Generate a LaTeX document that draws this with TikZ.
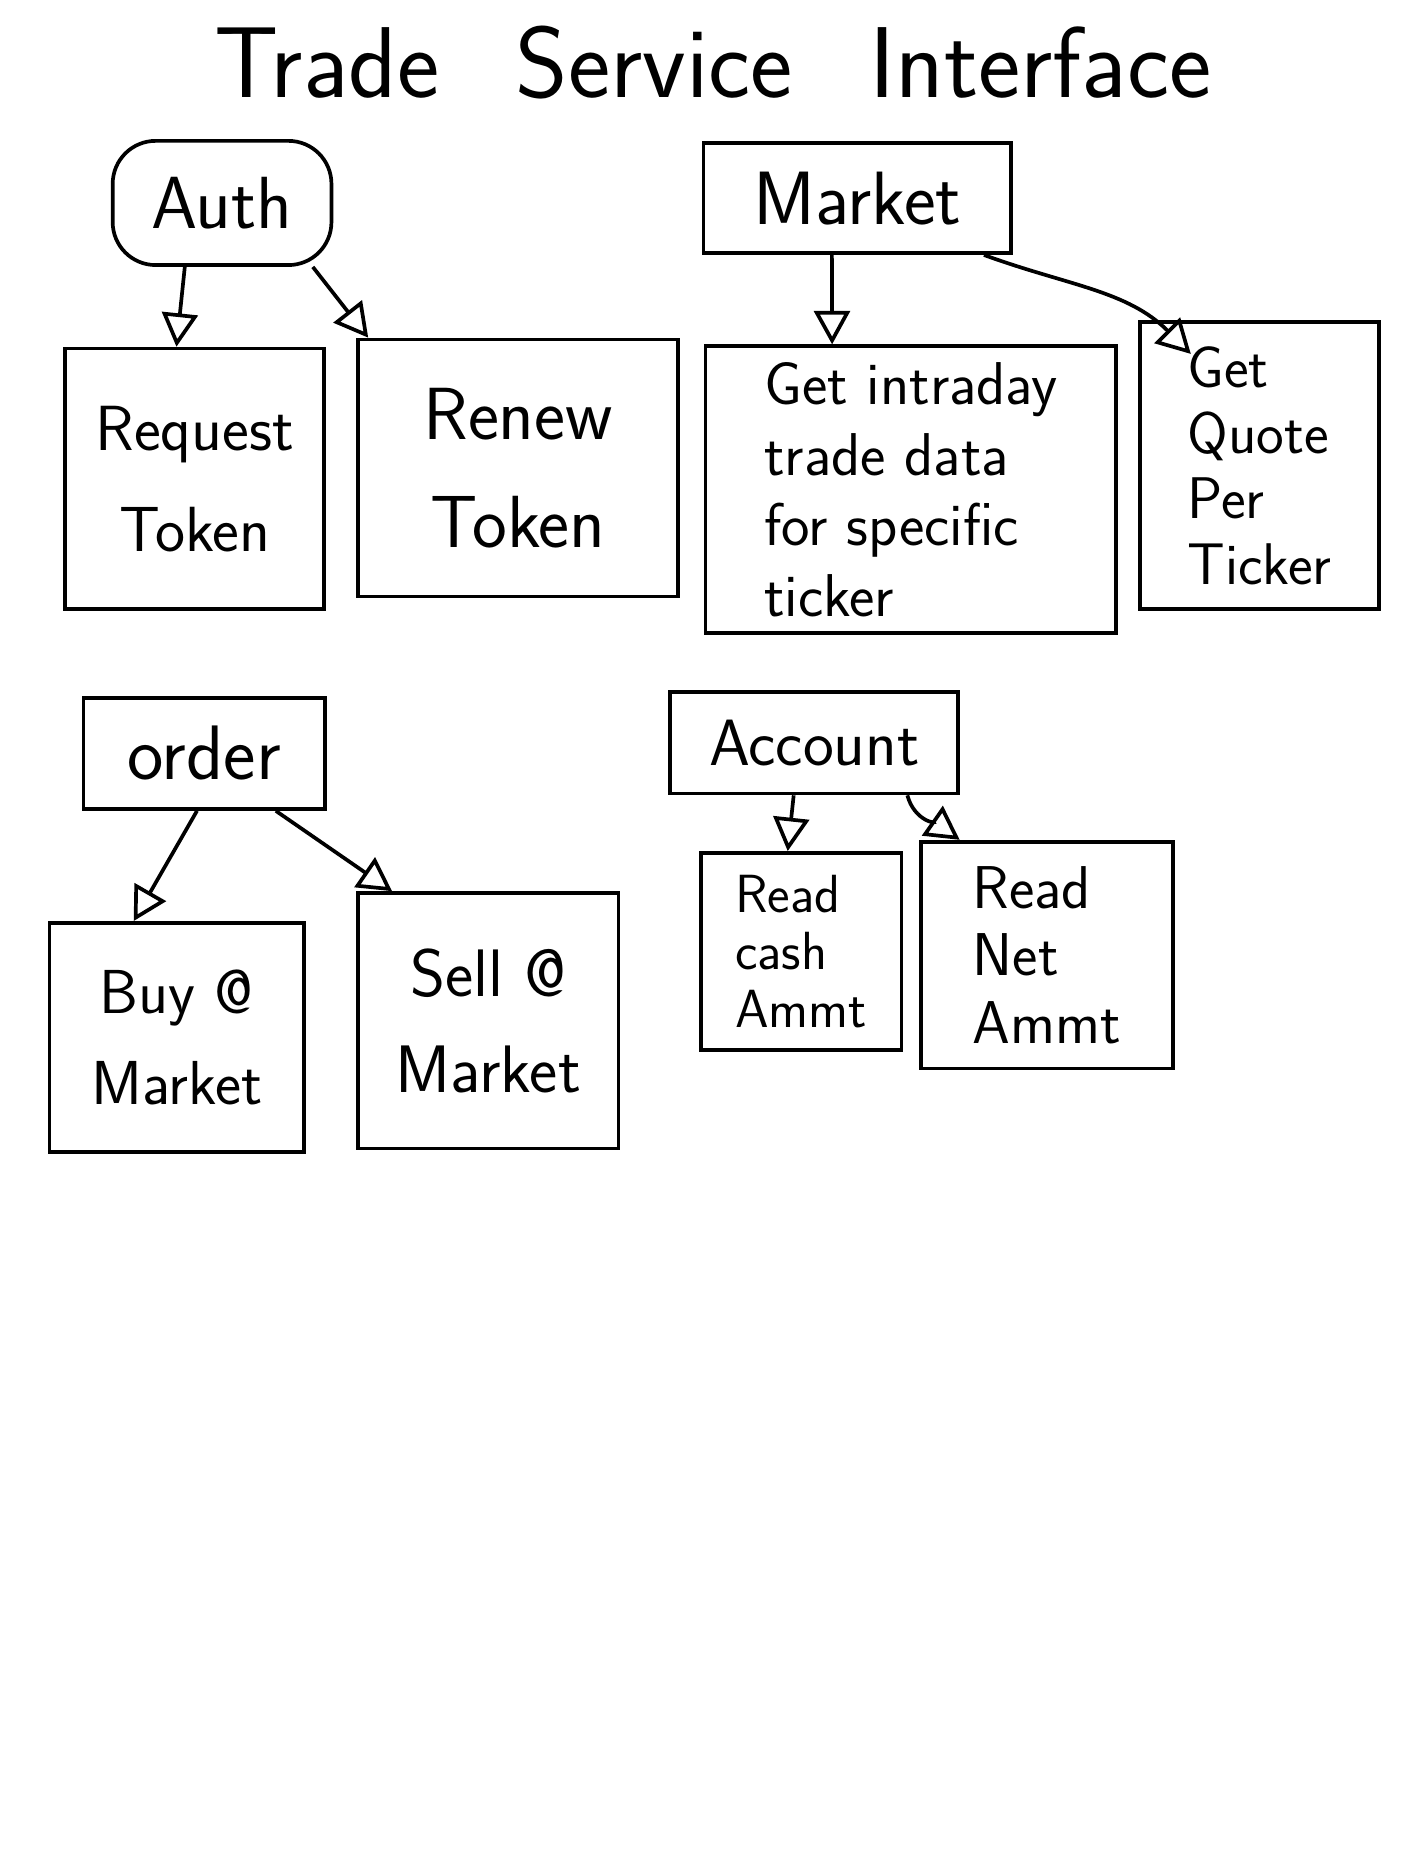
\documentclass[tikz,border=0pt]{standalone}
\usetikzlibrary{arrows.meta}
\begin{document}
\begin{tikzpicture}[x=0.025cm,y=-0.025cm,
  box/.style={draw,line width=2.2pt,align=center,inner sep=0pt},
  fs/.style 2 args={font=\sffamily\fontsize{#1}{#2}\selectfont},
  arr/.style={line width=2.2pt,-{Triangle[open,length=0.7cm,width=0.75cm]}}]
\useasboundingbox (0,0) rectangle (1176,1568);
\fill[white] (0,0) rectangle (1176,1568);
\node[fs={60}{64}] (title) at (597,52) {Trade\hspace{1.6cm}Service\hspace{1.6cm}Interface};
% auth group
\node[box,rounded corners=0.9cm,minimum width=4.58cm,minimum height=2.6cm,fs={44}{50}] (auth) at (186,170) {Auth};
\node[box,minimum width=5.43cm,minimum height=5.45cm,fs={38}{60}] (req) at (163,401) {Request\\Token};
\node[box,minimum width=6.7cm,minimum height=5.38cm,fs={44}{64}] (renew) at (434,392) {Renew\\Token};
\draw[arr] ([xshift=-0.78cm]auth.south) -- ([xshift=-0.38cm]req.north);
\draw[arr] ([xshift=1.9cm]auth.south) -- ([xshift=0.25cm]renew.north west);
% market group
\node[box,minimum width=8.6cm,minimum height=6cm,fs={36}{42},align=left] (intraday) at (763,410) {Get intraday\\trade data\\for specific\\ticker};
\node[box,minimum width=6.43cm,minimum height=2.3cm,fs={45}{50}] (market) at (718,166) {Market};
\node[box,minimum width=5.0cm,minimum height=6cm,fs={35}{39},align=left] (quote) at (1055,390) {Get\\Quote\\Per\\Ticker};
\draw[arr] ([xshift=-0.53cm]market.south) -- ([xshift=-1.65cm]intraday.north);
\draw[arr] ([xshift=-0.6cm]market.south east) to[out=-20,in=135] ([xshift=1.1cm,yshift=-0.7cm]quote.north west);
% order group
\node[box,minimum width=5.05cm,minimum height=2.33cm,fs={46}{50}] (order) at (171,631) {order};
\node[box,minimum width=5.33cm,minimum height=4.8cm,fs={37}{54}] (buy) at (148,869) {Buy @\\Market};
\node[box,minimum width=5.45cm,minimum height=5.35cm,fs={40}{57}] (sell) at (409,855) {Sell @\\Market};
\draw[arr] ([xshift=-0.15cm]order.south) -- ([xshift=-0.9cm]buy.north);
\draw[arr] ([xshift=1.5cm]order.south) -- ([xshift=0.75cm]sell.north west);
% account group
\node[box,minimum width=6.03cm,minimum height=2.13cm,fs={39}{44}] (account) at (682,622) {Account};
\node[box,minimum width=4.2cm,minimum height=4.13cm,fs={32}{34},align=left] (cash) at (671,797) {Read\\cash\\Ammt};
\node[box,minimum width=5.28cm,minimum height=4.75cm,fs={36}{40},align=left] (net) at (877,800) {Read\\Net\\Ammt};
\draw[arr] ([xshift=-0.43cm]account.south) -- ([xshift=-0.28cm]cash.north);
\draw[arr] ([xshift=1.95cm]account.south) to[out=-75,in=145] ([xshift=0.85cm]net.north west);
\end{tikzpicture}
\end{document}
